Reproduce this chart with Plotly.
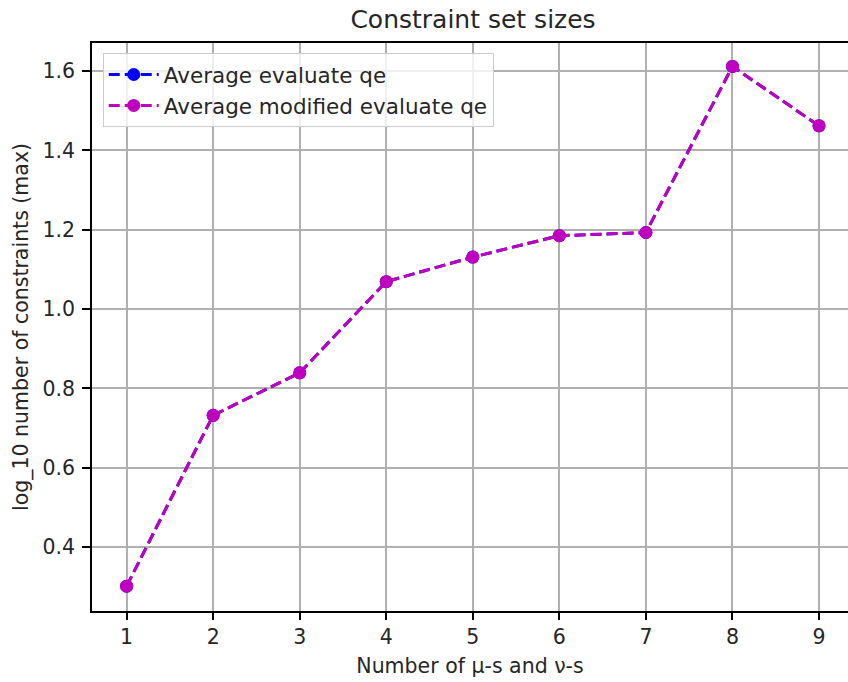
import plotly.graph_objects as go

x_values = [1, 2, 3, 4, 5, 6, 7, 8, 9]
avg_evaluate_qe = [0.301, 0.732, 0.839, 1.069, 1.131, 1.185, 1.193, 1.612, 1.462]
avg_modified_evaluate_qe = [0.301, 0.732, 0.839, 1.069, 1.131, 1.185, 1.193, 1.612, 1.462]
y_ticks = [0.4, 0.6, 0.8, 1.0, 1.2, 1.4, 1.6]

FONT = "DejaVu Sans"
TXT = "#262626"

W, H = 848, 682

fig = go.Figure()
fig.add_trace(go.Scatter(
    x=x_values, y=avg_evaluate_qe, mode="lines+markers",
    name="Average evaluate qe",
    line=dict(color="#0000ff", width=3, dash="11px,5px"),
    marker=dict(color="#0000ff", size=13),
))
fig.add_trace(go.Scatter(
    x=x_values, y=avg_modified_evaluate_qe, mode="lines+markers",
    name="Average modified evaluate qe",
    line=dict(color="#bf00bf", width=3, dash="11px,5px"),
    marker=dict(color="#bf00bf", size=13),
))

fig.update_layout(
    width=W, height=H,
    margin=dict(l=92, r=0, t=43, b=71, autoexpand=False),
    paper_bgcolor="white", plot_bgcolor="white",
    font=dict(family=FONT, size=20.5, color=TXT),
    title=dict(text="Constraint set sizes", x=473 / W, xanchor="center",
               xref="container", yref="container",
               y=1 - 19 / H, yanchor="middle",
               font=dict(size=25, color=TXT)),
    showlegend=True,
    legend=dict(x=0.0142, y=0.9824, xanchor="left", yanchor="top",
                bgcolor="rgba(255,255,255,0.8)", bordercolor="#cccccc", borderwidth=1,
                font=dict(size=21.5, color=TXT), tracegroupgap=0, itemwidth=50),
)
fig.update_xaxes(
    range=[0.6, 9.335], tickmode="array", tickvals=x_values,
    ticks="outside", ticklen=7, tickwidth=1.6, tickcolor="#000000",
    showline=True, linecolor="#000000", linewidth=1.6, mirror=True,
    showgrid=True, gridcolor="#b0b0b0", gridwidth=1.6, zeroline=False,
    automargin=False,
    title=dict(text="Number of μ-s and ν-s", font=dict(size=20.5), standoff=10),
    tickfont=dict(size=20.5),
)
fig.update_yaxes(
    range=[0.2384, 1.671], tickmode="array", tickvals=y_ticks,
    tickformat=".1f",
    ticks="outside", ticklen=8, tickwidth=1.6, tickcolor="#000000",
    showline=True, linecolor="#000000", linewidth=1.6, mirror=False,
    showgrid=True, gridcolor="#b0b0b0", gridwidth=1.6, zeroline=False,
    automargin=False, ticklabelstandoff=3,
    title=dict(text="log_10 number of constraints (max)", font=dict(size=20.5), standoff=8),
    tickfont=dict(size=20.5),
)

# remove the browser's default 8px body margin so the figure fills the window exactly
fig.write_html("out.html", config={"displayModeBar": False},
               post_script="document.body.style.margin='0px';")
